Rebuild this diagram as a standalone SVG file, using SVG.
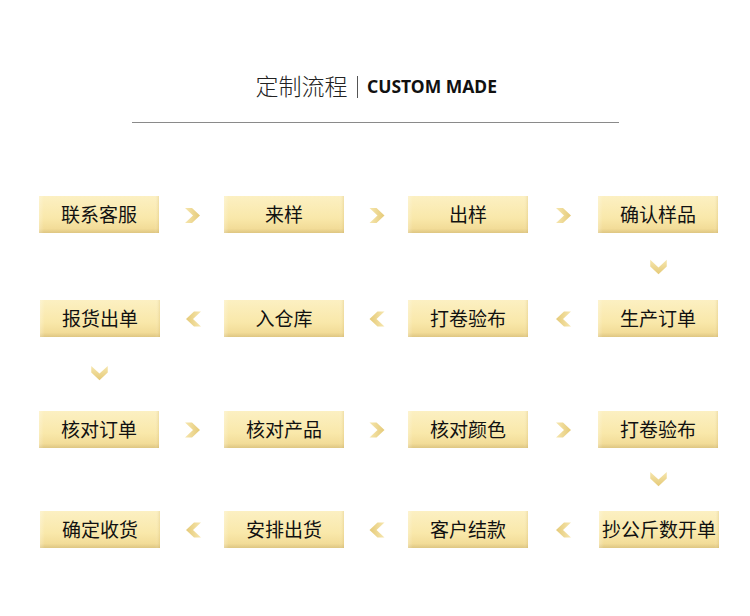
<svg xmlns="http://www.w3.org/2000/svg" xmlns:xlink="http://www.w3.org/1999/xlink" width="750" height="616" viewBox="0 0 750 616">
<defs>
<linearGradient id="boxg" x1="0" y1="0" x2="0" y2="1">
<stop offset="0" stop-color="#fcf0c2"/>
<stop offset="0.6" stop-color="#f9e8aa"/>
<stop offset="0.88" stop-color="#f2dc98"/>
<stop offset="1" stop-color="#dec682"/>
</linearGradient>
<linearGradient id="sideg" x1="0" y1="0" x2="1" y2="0">
<stop offset="0" stop-color="#ffffff" stop-opacity="0.25"/>
<stop offset="0.04" stop-color="#ffffff" stop-opacity="0"/>
<stop offset="0.96" stop-color="#ffffff" stop-opacity="0"/>
<stop offset="1" stop-color="#c9a955" stop-opacity="0.25"/>
</linearGradient>
<linearGradient id="chg" x1="0" y1="0" x2="1" y2="0">
<stop offset="0" stop-color="#f6e6ae"/>
<stop offset="1" stop-color="#e5ca78"/>
</linearGradient>
<path id="chev" d="M-7.5,-7.5 L-0.5,-7.5 L7.5,0 L-0.5,7.5 L-7.5,7.5 L0.5,0 Z" fill="url(#chg)"/>
</defs>
<style>
.box{fill:url(#boxg);}
.side{fill:url(#sideg);}
.lbl{font-family:"Noto Sans CJK SC","Noto Sans",sans-serif;font-size:19px;font-weight:400;fill:#111;text-anchor:middle;dominant-baseline:central;}
</style>
<rect width="750" height="616" fill="#ffffff"/>
<g id="title">
<text x="301.5" y="95" font-family="'Noto Sans CJK SC',sans-serif" font-size="23" font-weight="300" fill="#222" text-anchor="middle">定制流程</text>
<line x1="357.5" y1="76" x2="357.5" y2="98" stroke="#555" stroke-width="1"/>
<text x="432" y="93" font-family="'Noto Sans','Open Sans',sans-serif" font-size="17.5" font-weight="700" fill="#111" text-anchor="middle">CUSTOM MADE</text>
<line x1="132" y1="122.5" x2="619" y2="122.5" stroke="#8a8a8a" stroke-width="1"/>
</g>
<g id="n1"><rect class="box" x="39" y="196" width="120" height="37"/><rect class="side" x="39" y="196" width="120" height="37"/><text class="lbl" x="99" y="213">联系客服</text></g>
<g id="n2"><rect class="box" x="224" y="196" width="120" height="37"/><rect class="side" x="224" y="196" width="120" height="37"/><text class="lbl" x="284" y="213">来样</text></g>
<g id="n3"><rect class="box" x="408" y="196" width="120" height="37"/><rect class="side" x="408" y="196" width="120" height="37"/><text class="lbl" x="468" y="213">出样</text></g>
<g id="n4"><rect class="box" x="598" y="196" width="120" height="37"/><rect class="side" x="598" y="196" width="120" height="37"/><text class="lbl" x="658" y="213">确认样品</text></g>
<g id="n5"><rect class="box" x="40" y="300" width="120" height="37"/><rect class="side" x="40" y="300" width="120" height="37"/><text class="lbl" x="100" y="317">报货出单</text></g>
<g id="n6"><rect class="box" x="224" y="300" width="120" height="37"/><rect class="side" x="224" y="300" width="120" height="37"/><text class="lbl" x="284" y="317">入仓库</text></g>
<g id="n7"><rect class="box" x="408" y="300" width="120" height="37"/><rect class="side" x="408" y="300" width="120" height="37"/><text class="lbl" x="468" y="317">打卷验布</text></g>
<g id="n8"><rect class="box" x="598" y="300" width="120" height="37"/><rect class="side" x="598" y="300" width="120" height="37"/><text class="lbl" x="658" y="317">生产订单</text></g>
<g id="n9"><rect class="box" x="39" y="411" width="120" height="37"/><rect class="side" x="39" y="411" width="120" height="37"/><text class="lbl" x="99" y="428">核对订单</text></g>
<g id="n10"><rect class="box" x="224" y="411" width="120" height="37"/><rect class="side" x="224" y="411" width="120" height="37"/><text class="lbl" x="284" y="428">核对产品</text></g>
<g id="n11"><rect class="box" x="408" y="411" width="120" height="37"/><rect class="side" x="408" y="411" width="120" height="37"/><text class="lbl" x="468" y="428">核对颜色</text></g>
<g id="n12"><rect class="box" x="598" y="411" width="120" height="37"/><rect class="side" x="598" y="411" width="120" height="37"/><text class="lbl" x="658" y="428">打卷验布</text></g>
<g id="n13"><rect class="box" x="40" y="511" width="120" height="37"/><rect class="side" x="40" y="511" width="120" height="37"/><text class="lbl" x="100" y="528">确定收货</text></g>
<g id="n14"><rect class="box" x="224" y="511" width="120" height="37"/><rect class="side" x="224" y="511" width="120" height="37"/><text class="lbl" x="284" y="528">安排出货</text></g>
<g id="n15"><rect class="box" x="408" y="511" width="120" height="37"/><rect class="side" x="408" y="511" width="120" height="37"/><text class="lbl" x="468" y="528">客户结款</text></g>
<g id="n16"><rect class="box" x="599" y="511" width="120" height="37"/><rect class="side" x="599" y="511" width="120" height="37"/><text class="lbl" x="659" y="528">抄公斤数开单</text></g>
<g id="connectors">
<use xlink:href="#chev" transform="translate(192.5,215.5)"/>
<use xlink:href="#chev" transform="translate(377,215.5)"/>
<use xlink:href="#chev" transform="translate(563.5,215.5)"/>
<use xlink:href="#chev" transform="translate(658.5,267) rotate(90) scale(0.95,1.1)"/>
<use xlink:href="#chev" transform="translate(193.5,319) rotate(180)"/>
<use xlink:href="#chev" transform="translate(377,319) rotate(180)"/>
<use xlink:href="#chev" transform="translate(563.5,319) rotate(180)"/>
<use xlink:href="#chev" transform="translate(99.5,373) rotate(90) scale(0.95,1.1)"/>
<use xlink:href="#chev" transform="translate(192.5,430)"/>
<use xlink:href="#chev" transform="translate(377,430)"/>
<use xlink:href="#chev" transform="translate(563.5,430)"/>
<use xlink:href="#chev" transform="translate(658.5,479) rotate(90) scale(0.95,1.1)"/>
<use xlink:href="#chev" transform="translate(193.5,530) rotate(180)"/>
<use xlink:href="#chev" transform="translate(377,530) rotate(180)"/>
<use xlink:href="#chev" transform="translate(563.5,530) rotate(180)"/>
</g>
</svg>
